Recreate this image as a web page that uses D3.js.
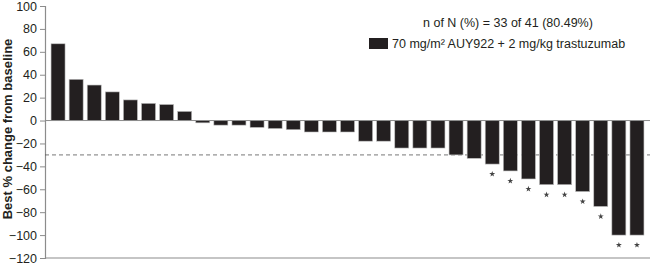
<!DOCTYPE html>
<html>
<head>
<meta charset="utf-8">
<script src="https://cdn.jsdelivr.net/npm/d3@7"></script>
<style>
  body { margin: 0; background: #fff; }
  svg { display: block; font-family: "Liberation Sans", Arial, sans-serif; }
</style>
</head>
<body>
<div id="chart"></div>
<script>
const width = 650;
const height = 273;

// best % change per patient, sorted
const values = [67, 36, 31, 25, 18, 15, 14, 8, -2, -4, -4, -6, -7, -8, -10, -10, -10,
    -18, -18, -24, -24, -24, -30, -33, -38, -44, -51, -56, -56, -62, -75, -100, -100];
// patients flagged with a star
const starred = [24, 25, 26, 27, 28, 29, 30, 31, 32];
const yTicks = [100, 80, 60, 40, 20, 0, -20, -40, -60, -80, -100, -120];
const threshold = -30;
const legendTitle = "n of N (%) = 33 of 41 (80.49%)";
const legendLabel = "70 mg/m² AUY922 + 2 mg/kg trastuzumab";

const ink = "#231f20";
const axisGray = "#8c8c8c";

const svg = d3.select("#chart")
    .append("svg")
    .attr("width", width)
    .attr("height", height);

const x = d3.scaleBand()
    .domain(d3.range(values.length))
    .range([49, 646])
    .paddingInner(0.226)
    .paddingOuter(0.113);

const y = d3.scaleLinear()
    .domain([-120, 100])
    .range([258, 6]);

const axisX = 45;

// y axis
const yAxis = svg.append("g")
    .attr("transform", `translate(${axisX},0)`)
    .call(d3.axisLeft(y).tickValues(yTicks).tickSize(5).tickPadding(3).tickFormat(d3.format("d")));
yAxis.select(".domain").attr("stroke", axisGray).attr("stroke-width", 1.2);
yAxis.selectAll(".tick line").attr("stroke", axisGray);
yAxis.selectAll(".tick text")
    .attr("fill", ink)
    .style("font-size", "12.5px")
    .style("font-family", "Liberation Sans, Arial, sans-serif");

// bottom line
svg.append("line")
    .attr("x1", axisX).attr("x2", width)
    .attr("y1", y(-120)).attr("y2", y(-120))
    .attr("stroke", axisGray).attr("stroke-width", 1.2);

// threshold dashed line
svg.append("line")
    .attr("x1", axisX).attr("x2", width)
    .attr("y1", y(threshold)).attr("y2", y(threshold))
    .attr("stroke", "#555").attr("stroke-width", 0.8)
    .attr("stroke-dasharray", "4,3");

// bars
svg.selectAll("rect.bar")
    .data(values)
    .enter()
    .append("rect")
    .attr("class", "bar")
    .attr("x", (d, i) => x(i))
    .attr("width", x.bandwidth())
    .attr("y", d => y(Math.max(0, d)))
    .attr("height", d => Math.abs(y(d) - y(0)))
    .attr("fill", ink)
    .attr("stroke", "#bdbdbd")
    .attr("stroke-width", 0.6);

// zero line
svg.append("line")
    .attr("x1", axisX).attr("x2", width)
    .attr("y1", y(0)).attr("y2", y(0))
    .attr("stroke", axisGray).attr("stroke-width", 1);

// stars
svg.selectAll("path.star")
    .data(starred)
    .enter()
    .append("path")
    .attr("class", "star")
    .attr("d", d3.symbol().type(d3.symbolStar).size(11))
    .attr("transform", i => `translate(${x(i) + x.bandwidth() / 2},${y(values[i]) + 10})`)
    .attr("fill", "#444");

// y title
svg.append("text")
    .attr("transform", `translate(12,${(y(100) + y(-120)) / 2 - 3}) rotate(-90)`)
    .attr("text-anchor", "middle")
    .attr("fill", ink)
    .style("font-size", "13px")
    .style("font-weight", "bold")
    .text("Best % change from baseline");

// legend
svg.append("text")
    .attr("x", 423)
    .attr("y", 27)
    .attr("fill", ink)
    .style("font-size", "12.5px")
    .text(legendTitle);

svg.append("rect")
    .attr("x", 369).attr("y", 38)
    .attr("width", 19).attr("height", 11)
    .attr("fill", ink);

svg.append("text")
    .attr("x", 392)
    .attr("y", 48)
    .attr("fill", ink)
    .style("font-size", "12.5px")
    .text(legendLabel);
</script>
</body>
</html>
